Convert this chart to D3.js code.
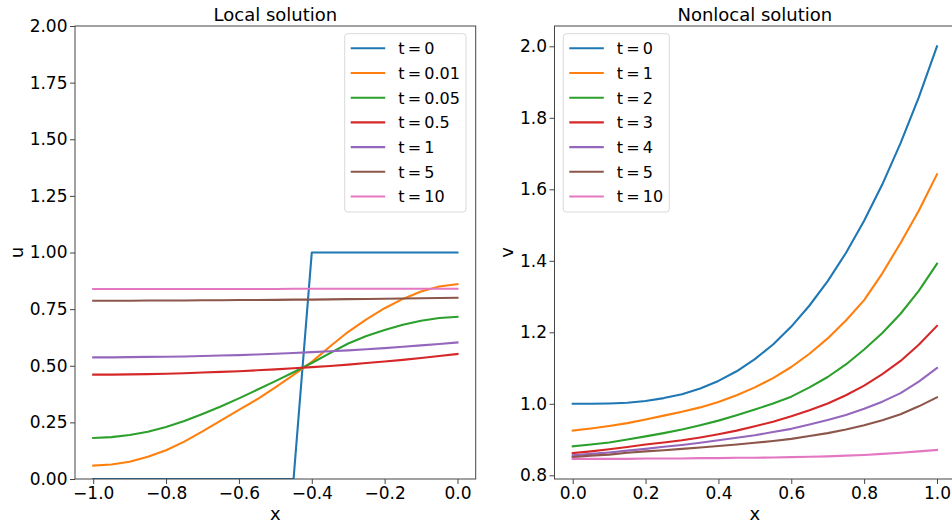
<!DOCTYPE html>
<html>
<head>
<meta charset="utf-8">
<script src="https://cdn.jsdelivr.net/npm/d3@7"></script>
<style>
  body { margin: 0; background: #fff; }
  svg { display: block; font-family: "DejaVu Sans", sans-serif; }
</style>
</head>
<body>
<svg id="chart" width="952" height="524"></svg>
<script>
// ---------- data ----------
const colors = ["#1f77b4", "#ff7f0e", "#2ca02c", "#d62728", "#9467bd", "#8c564b", "#e377c2"];

// Local solution: x from -1 to 0, step 0.05
const localX = [-1.0, -0.95, -0.9, -0.85, -0.8, -0.75, -0.7, -0.65, -0.6, -0.55, -0.5,
                -0.45, -0.4, -0.35, -0.3, -0.25, -0.2, -0.15, -0.1, -0.05, 0.0];
const localLabels = ["t = 0", "t = 0.01", "t = 0.05", "t = 0.5", "t = 1", "t = 5", "t = 10"];
const localT0    = [0, 0, 0, 0, 0, 0, 0, 0, 0, 0, 0, 0, 1, 1, 1, 1, 1, 1, 1, 1, 1];
const localT001  = [0.059, 0.064, 0.076, 0.098, 0.127, 0.165, 0.210, 0.258, 0.305, 0.352, 0.405,
                    0.460, 0.517, 0.585, 0.650, 0.705, 0.754, 0.795, 0.828, 0.850, 0.860];
const localT005  = [0.181, 0.185, 0.194, 0.209, 0.230, 0.256, 0.287, 0.320, 0.356, 0.394, 0.432,
                    0.471, 0.512, 0.556, 0.598, 0.631, 0.658, 0.681, 0.699, 0.711, 0.716];
const localT05   = [0.461, 0.461, 0.462, 0.463, 0.465, 0.467, 0.470, 0.473, 0.476, 0.480, 0.484,
                    0.489, 0.494, 0.499, 0.505, 0.512, 0.519, 0.526, 0.534, 0.543, 0.552];
const localT1    = [0.537, 0.537, 0.538, 0.539, 0.540, 0.541, 0.543, 0.545, 0.547, 0.550, 0.553,
                    0.556, 0.560, 0.564, 0.568, 0.573, 0.578, 0.584, 0.590, 0.596, 0.603];
const localT5    = [0.787, 0.787, 0.787, 0.788, 0.788, 0.788, 0.789, 0.789, 0.790, 0.790, 0.791,
                    0.792, 0.792, 0.793, 0.794, 0.795, 0.796, 0.797, 0.798, 0.799, 0.800];
const localT10   = [0.839, 0.839, 0.839, 0.839, 0.839, 0.839, 0.839, 0.839, 0.839, 0.839, 0.839,
                    0.840, 0.840, 0.840, 0.840, 0.840, 0.840, 0.840, 0.840, 0.840, 0.840];
const localSeries = [localT0, localT001, localT005, localT05, localT1, localT5, localT10];

// Nonlocal solution: x from 0 to 1, step 0.05
const nonlocalX = [0.0, 0.05, 0.1, 0.15, 0.2, 0.25, 0.3, 0.35, 0.4, 0.45, 0.5,
                   0.55, 0.6, 0.65, 0.7, 0.75, 0.8, 0.85, 0.9, 0.95, 1.0];
const nonlocalLabels = ["t = 0", "t = 1", "t = 2", "t = 3", "t = 4", "t = 5", "t = 10"];
const nlT0  = [1.000, 1.000, 1.001, 1.003, 1.008, 1.016, 1.027, 1.043, 1.064, 1.091, 1.125,
               1.166, 1.216, 1.275, 1.343, 1.422, 1.512, 1.614, 1.729, 1.857, 2.000];
const nlT1  = [0.925, 0.931, 0.938, 0.946, 0.956, 0.967, 0.978, 0.990, 1.005, 1.024, 1.046,
               1.072, 1.103, 1.140, 1.183, 1.233, 1.290, 1.365, 1.450, 1.540, 1.642];
const nlT2  = [0.881, 0.886, 0.892, 0.900, 0.909, 0.918, 0.928, 0.940, 0.953, 0.968, 0.984,
               1.001, 1.020, 1.046, 1.075, 1.110, 1.152, 1.198, 1.252, 1.316, 1.392];
const nlT3  = [0.862, 0.867, 0.873, 0.879, 0.886, 0.892, 0.898, 0.906, 0.915, 0.925, 0.937,
               0.950, 0.965, 0.982, 1.001, 1.024, 1.051, 1.083, 1.120, 1.165, 1.218];
const nlT4  = [0.856, 0.860, 0.864, 0.869, 0.874, 0.880, 0.885, 0.891, 0.898, 0.905, 0.912,
               0.921, 0.930, 0.942, 0.955, 0.969, 0.986, 1.006, 1.030, 1.062, 1.100];
const nlT5  = [0.851, 0.855, 0.858, 0.863, 0.867, 0.870, 0.874, 0.878, 0.882, 0.886, 0.891,
               0.896, 0.902, 0.910, 0.918, 0.928, 0.940, 0.954, 0.971, 0.993, 1.018];
const nlT10 = [0.846, 0.846, 0.846, 0.846, 0.847, 0.847, 0.847, 0.848, 0.848, 0.849, 0.849,
               0.850, 0.851, 0.852, 0.853, 0.855, 0.857, 0.860, 0.863, 0.867, 0.871];
const nonlocalSeries = [nlT0, nlT1, nlT2, nlT3, nlT4, nlT5, nlT10];

// tick values
const localXTicks = [-1.0, -0.8, -0.6, -0.4, -0.2, 0.0];
const localYTicks = [0.00, 0.25, 0.50, 0.75, 1.00, 1.25, 1.50, 1.75, 2.00];
const nonlocalXTicks = [0.0, 0.2, 0.4, 0.6, 0.8, 1.0];
const nonlocalYTicks = [0.8, 1.0, 1.2, 1.4, 1.6, 1.8, 2.0];

// ---------- drawing ----------
const svg = d3.select("#chart");
const TICK_FS = 17, LABEL_FS = 18, TITLE_FS = 18, LEG_FS = 16;

function panel(opts) {
  const { left, right, top, bottom, xDomain, yDomain, xTicks, yTicks, xFmt, yFmt,
          xs, series, labels, title, ylabel, legendBox } = opts;
  const x = d3.scaleLinear().domain(xDomain).range([left, right]);
  const y = d3.scaleLinear().domain(yDomain).range([bottom, top]);
  const g = svg.append("g");

  const clipId = "clip" + Math.round(left);
  g.append("clipPath").attr("id", clipId).append("rect")
    .attr("x", left).attr("y", top).attr("width", right - left).attr("height", bottom - top);

  const line = d3.line().x((d, i) => x(xs[i])).y(d => y(d));
  series.forEach((s, k) => {
    g.append("path").datum(s)
      .attr("clip-path", `url(#${clipId})`)
      .attr("fill", "none").attr("stroke", colors[k]).attr("stroke-width", 2.1)
      .attr("stroke-linejoin", "round").attr("stroke-linecap", "square")
      .attr("d", line);
  });

  // frame
  const spine = "#444";
  g.append("rect").attr("x", left).attr("y", top).attr("width", right - left).attr("height", bottom - top)
    .attr("fill", "none").attr("stroke", spine).attr("stroke-width", 1);

  const xAxis = d3.axisBottom(x).tickValues(xTicks).tickFormat(d3.format(xFmt))
    .tickSizeOuter(0).tickSize(5).tickPadding(2.5);
  const yAxis = d3.axisLeft(y).tickValues(yTicks).tickFormat(d3.format(yFmt))
    .tickSizeOuter(0).tickSize(5).tickPadding(2.5);
  const gx = g.append("g").attr("transform", `translate(0,${bottom})`).call(xAxis);
  const gy = g.append("g").attr("transform", `translate(${left},0)`).call(yAxis);
  [gx, gy].forEach(a => {
    a.select(".domain").remove();
    a.selectAll("line").attr("stroke", spine).attr("stroke-width", 1);
    a.selectAll("text").attr("font-size", TICK_FS).attr("fill", "#000")
      .attr("font-family", "DejaVu Sans");
  });

  // title
  g.append("text").attr("x", (left + right) / 2).attr("y", 21)
    .attr("text-anchor", "middle").attr("font-size", TITLE_FS).text(title);
  // x label
  g.append("text").attr("x", (left + right) / 2).attr("y", 520)
    .attr("text-anchor", "middle").attr("font-size", LABEL_FS).text("x");
  // y label
  g.append("text").attr("transform", `translate(${opts.ylabelX},${(top + bottom) / 2}) rotate(-90)`)
    .attr("text-anchor", "middle").attr("font-size", LABEL_FS).text(ylabel);

  // legend
  const lb = legendBox;
  const leg = g.append("g");
  leg.append("rect").attr("x", lb.x).attr("y", lb.y).attr("width", lb.w).attr("height", lb.h)
    .attr("rx", 3).attr("fill", "rgba(255,255,255,0.8)").attr("stroke", "#d9d9d9").attr("stroke-width", 1);
  labels.forEach((lab, k) => {
    const cy = lb.y + 14.6 + k * 24.7;
    leg.append("line").attr("x1", lb.x + 6).attr("x2", lb.x + 40.5)
      .attr("y1", cy).attr("y2", cy).attr("stroke", colors[k]).attr("stroke-width", 2.1);
    leg.append("text").attr("x", lb.x + 53.5).attr("y", cy + 5.8)
      .attr("font-size", LEG_FS).text(lab.replace(/ /g, "\u2009"));
  });
}

panel({
  left: 75, right: 475.7, top: 26, bottom: 479,
  xDomain: [-1.05, 0.05], yDomain: [0, 2],
  xTicks: localXTicks, yTicks: localYTicks, xFmt: ".1f", yFmt: ".2f",
  xs: localX, series: localSeries, labels: localLabels,
  title: "Local solution", ylabel: "u", ylabelX: 22.7,
  legendBox: { x: 344.7, y: 33.7, w: 121.3, h: 178.3 }
});

panel({
  left: 554.5, right: 955.2, top: 26, bottom: 479,
  xDomain: [-0.05, 1.05], yDomain: [0.7897, 2.0568],
  xTicks: nonlocalXTicks, yTicks: nonlocalYTicks, xFmt: ".1f", yFmt: ".1f",
  xs: nonlocalX, series: nonlocalSeries, labels: nonlocalLabels,
  title: "Nonlocal solution", ylabel: "v", ylabelX: 513.3,
  legendBox: { x: 563.3, y: 33.7, w: 106, h: 178.3 }
});
</script>
</body>
</html>
